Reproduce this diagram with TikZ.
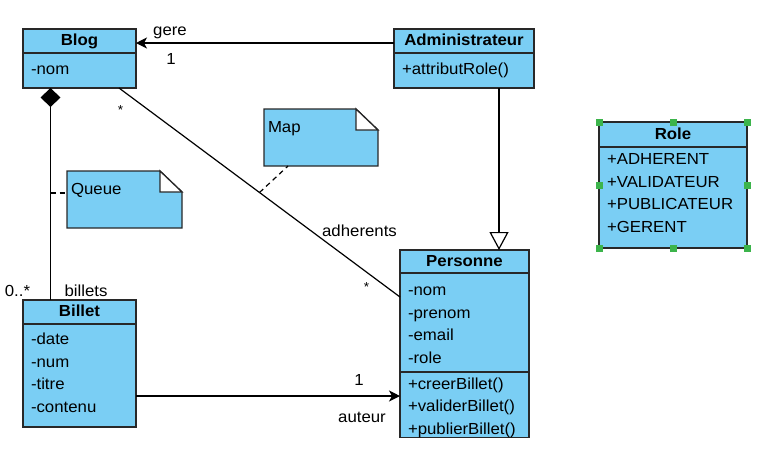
\documentclass[tikz,border=0pt]{standalone}
\usepackage{fontspec}
\setmainfont[FakeStretch=1.05]{Liberation Sans}
\usetikzlibrary{positioning,arrows.meta,calc,backgrounds}

\definecolor{umlblue}{RGB}{122,206,244}
\definecolor{umlline}{RGB}{40,40,40}
\definecolor{handlegreen}{RGB}{60,180,75}

\tikzset{
  umlhead/.style={rectangle, draw=umlline, fill=umlblue, line width=1.3pt,
      anchor=north west, inner sep=0pt, outer sep=0pt, text height=11pt, text depth=2pt,
      font=\fontsize{16}{19}\selectfont\bfseries},
  umlbody/.style={rectangle, draw=umlline, fill=umlblue, line width=1.3pt,
      anchor=north, align=left, inner xsep=8pt, inner ysep=0pt, outer sep=0pt,
      font=\fontsize{16}{22.5}\selectfont},
  notebox/.style={anchor=north west, align=left, inner xsep=4pt, inner ysep=0pt,
      outer sep=0pt, text height=23pt, text depth=34pt, font=\fontsize{16}{19}\selectfont},
  noteline/.style={draw=umlline, line width=1.3pt},
  assoc/.style={draw=black, line width=1.2pt},
  lbl/.style={anchor=base, inner sep=0pt, font=\fontsize{16}{19}\selectfont},
  starlbl/.style={lbl, font=\fontsize{13}{15}\selectfont},
}

% dog-eared note outline round a named node
\newcommand{\drawnote}[1]{%
  \filldraw[noteline, fill=umlblue] (#1.north west) -- ([xshift=-22pt]#1.north east)
      -- ([yshift=-21pt]#1.north east) -- (#1.south east) -- (#1.south west) -- cycle;
  \filldraw[noteline, fill=white] ([xshift=-22pt]#1.north east)
      -- ([xshift=-22pt,yshift=-21pt]#1.north east) -- ([yshift=-21pt]#1.north east) -- cycle;
}
% extra depth under the last line, to lift a list a little
\newcommand{\liftby}[1]{\rule[-#1]{0pt}{#1}}
% extra height over the first line, to drop a list a little
\newcommand{\dropto}[1]{\rule{0pt}{#1}}

\begin{document}
\begin{tikzpicture}[x=1pt, y=-1pt]
  \useasboundingbox (0,0) rectangle (765,451);

  % the classes
  \node[umlhead, minimum width=113pt, minimum height=24pt] (bloghead) at (23,29) {Blog};
  \node[umlbody, text width=97pt, minimum height=35pt] (blogattr) at (bloghead.south) {-nom};

  \node[umlhead, minimum width=140pt, minimum height=24pt] (adminhead) at (394,29) {Administrateur};
  \node[umlbody, text width=124pt, minimum height=35pt] (adminops) at (adminhead.south) {+attributRole()};

  \node[umlhead, minimum width=129pt, minimum height=23pt] (pershead) at (400,250) {Personne};
  \node[umlbody, text width=113pt, minimum height=99pt] (persattr) at (pershead.south)
      {\dropto{14pt}-nom\\-prenom\\-email\\-role};
  \node[umlbody, text width=113pt, minimum height=62pt] (persops) at (persattr.south)
      {\dropto{17pt}+creerBillet()\\+validerBillet()\\+publierBillet()};

  \node[umlhead, minimum width=148pt, minimum height=25pt] (rolehead) at (599,122) {Role};
  \node[umlbody, text width=132pt, minimum height=101pt] (roleattr) at (rolehead.south)
      {+ADHERENT\\+VALIDATEUR\\+PUBLICATEUR\\+GERENT\liftby{9pt}};

  \node[umlhead, minimum width=113pt, minimum height=24pt] (billethead) at (23,300) {Billet};
  \node[umlbody, text width=97pt, minimum height=103pt] (billetattr) at (billethead.south)
      {-date\\-num\\-titre\\-contenu\liftby{6pt}};

  % the notes
  \node[notebox, text width=106pt] (mapnote) at (264,109) {Map};
  \node[notebox, text width=107pt] (queuenote) at (67,171) {Queue};
  \begin{pgfonlayer}{background}
    \drawnote{mapnote}
    \drawnote{queuenote}
  \end{pgfonlayer}

  % gere
  \draw[assoc, -{Stealth[length=11pt,width=11pt,inset=3pt]}]
      ([yshift=-2pt]adminhead.west) -- ([yshift=-2pt]adminhead.west -| bloghead.east);

  % heritage
  \coordinate (inhtop) at ([xshift=35pt]adminops.south);
  \draw[assoc, -{Triangle[open,fill=white,length=18pt,width=19pt]}]
      (inhtop) -- (inhtop |- pershead.north);

  % composition blog / billets
  \coordinate (comptop) at ([xshift=27.5pt]blogattr.south west);
  \draw[assoc, {Diamond[length=19pt,width=20pt]}-]
      (comptop) -- coordinate[pos=0.495] (queueanchor) (comptop |- billethead.north);

  % adherents
  \draw[assoc] ([xshift=96pt]blogattr.south west)
      -- coordinate[pos=0.5] (mapanchor) ([yshift=25.5pt]persattr.west);

  % auteur
  \draw[assoc, -{Stealth[length=11pt,width=11pt,inset=3pt]}]
      ([yshift=-20.5pt]billetattr.east) -- ([yshift=-20.5pt]billetattr.east -| persops.west);

  % note links
  \draw[assoc, dash pattern=on 5pt off 4pt] (queueanchor) -- (queueanchor -| queuenote.west);
  \draw[assoc, dash pattern=on 5pt off 4pt] (mapanchor) -- ([xshift=24pt]mapnote.south west);

  % labels
  \node[lbl] (gerelbl) at (170,35) {gere};
  \node[lbl] (gereone) at (171,64) {1};
  \node[lbl] (billetsmult) at (17.5,296) {0..*};
  \node[lbl] (billetslbl) at (86,296) {billets};
  \node[lbl] (adhlbl) at (359.5,236) {adherents};
  \node[starlbl] (blogstar) at (120.5,114) {*};
  \node[starlbl] (persstar) at (366.5,291.5) {*};
  \node[lbl] (auteurone) at (359,385) {1};
  \node[lbl] (auteurlbl) at (362,422.5) {auteur};

  % selection handles on role
  \coordinate (rolemidw) at ($(rolehead.north west)!0.5!(roleattr.south west)$);
  \coordinate (rolemide) at ($(rolehead.north east)!0.5!(roleattr.south east)$);
  \foreach \h in {rolehead.north west, rolehead.north, rolehead.north east,
      rolemidw, rolemide, roleattr.south west, roleattr.south, roleattr.south east}
    \fill[handlegreen] (\h) +(-3.5,-3.5) rectangle +(3.5,3.5);
\end{tikzpicture}
\end{document}
